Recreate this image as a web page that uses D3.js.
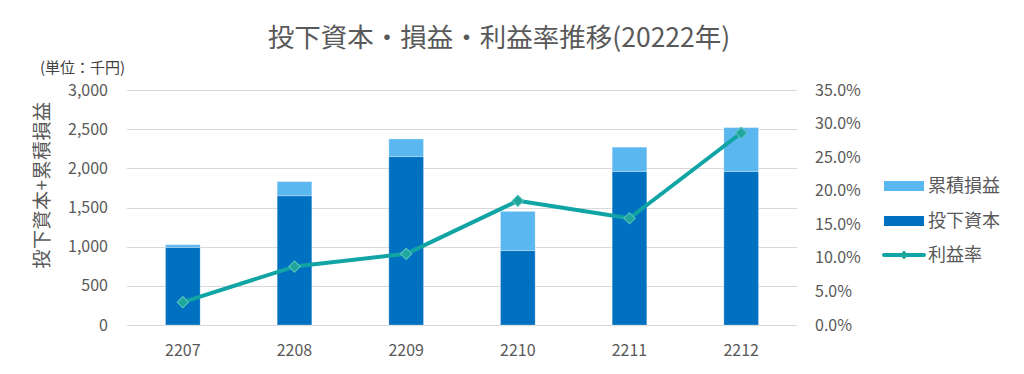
<!DOCTYPE html>
<html>
<head>
<meta charset="utf-8">
<script src="https://cdn.jsdelivr.net/npm/d3@7"></script>
<style>
	body { margin: 0; background: #fff; }
	svg { display: block; font-family: "Noto Sans CJK JP", sans-serif; }
</style>
</head>
<body>
<main></main>
<script>
// months (yymm)
const months = ["2207", "2208", "2209", "2210", "2211", "2212"];
// 投下資本 (千円)
const capital = [990, 1650, 2150, 950, 1960, 1960];
// 累積損益 (千円)
const cumulative = [35, 180, 225, 500, 310, 560];
// 利益率 (%)
const margin_rate = [3.4, 8.7, 10.6, 18.5, 15.9, 28.6];
const leftTicks = [0, 500, 1000, 1500, 2000, 2500, 3000];
const rightTicks = [0, 5, 10, 15, 20, 25, 30, 35];
const seriesNames = ["累積損益", "投下資本", "利益率"];

const w = 1024, h = 374;
const margin = ({top: 90, right: 227, bottom: 49, left: 127});
const colDark = "#0070C0", colLight = "#5BB7EF", colLine = "#11A4A4";
const textCol = "#595959";

let svg = d3.select("main")
	.append("svg")
	.attr("width", w)
	.attr("height", h);

let x = d3.scaleBand()
	.domain(months)
	.range([margin.left, w - margin.right])
	.paddingInner(0.69)
	.paddingOuter(0.345);

let y = d3.scaleLinear()
	.domain([0, 3000])
	.range([h - margin.bottom, margin.top]);

let y2 = d3.scaleLinear()
	.domain([0, 35])
	.range([h - margin.bottom, margin.top]);

// gridlines
svg.append("g")
	.selectAll("line")
	.data(leftTicks)
	.join("line")
		.attr("x1", margin.left)
		.attr("x2", w - margin.right)
		.attr("y1", d => Math.round(y(d)) + 0.5)
		.attr("y2", d => Math.round(y(d)) + 0.5)
		.attr("stroke", "#d9d9d9")
		.attr("stroke-width", 1);

// stacked bars
let rows = months.map((m, i) => ({month: m, capital: capital[i], cumulative: cumulative[i]}));
let stack = d3.stack().keys(["capital", "cumulative"])(rows);
let fills = {capital: colDark, cumulative: colLight};

svg.append("g")
	.selectAll("g")
	.data(stack)
	.join("g")
		.attr("fill", d => fills[d.key])
	.selectAll("rect")
	.data(d => d)
	.join("rect")
		.attr("x", d => x(d.data.month))
		.attr("y", d => y(d[1]))
		.attr("width", x.bandwidth())
		.attr("height", d => y(d[0]) - y(d[1]))
		.attr("stroke", "rgba(255,255,255,0.25)")
		.attr("stroke-width", 1);

let styleTicks = g => g.selectAll("text")
	.attr("font-size", 16)
	.attr("font-family", "\"Noto Sans CJK JP\", sans-serif")
	.attr("fill", textCol);

// left axis
svg.append("g")
	.attr("transform", `translate(${margin.left - 16},0)`)
	.call(d3.axisLeft(y).tickValues(leftTicks).tickSize(0).tickFormat(d3.format(",")))
	.call(g => g.select(".domain").remove())
	.call(styleTicks);

// right axis
svg.append("g")
	.attr("transform", `translate(${w - margin.right + 15},0)`)
	.call(d3.axisRight(y2).tickValues(rightTicks).tickSize(0).tickFormat(d => d.toFixed(1) + "%"))
	.call(g => g.select(".domain").remove())
	.call(styleTicks);

// bottom axis
svg.append("g")
	.attr("transform", `translate(0,${h - margin.bottom + 17})`)
	.call(d3.axisBottom(x).tickSize(0))
	.call(g => g.select(".domain").remove())
	.call(styleTicks);

// profit rate line
let cx = m => x(m) + x.bandwidth() / 2;
let line = d3.line()
	.x((d, i) => cx(months[i]))
	.y(d => y2(d));

svg.append("path")
	.datum(margin_rate)
	.attr("fill", "none")
	.attr("stroke", colLine)
	.attr("stroke-width", 4)
	.attr("stroke-linejoin", "round")
	.attr("d", line);

// diamond markers
svg.append("g")
	.selectAll("path")
	.data(margin_rate)
	.join("path")
		.attr("transform", (d, i) => `translate(${cx(months[i])},${y2(d)}) rotate(45)`)
		.attr("d", d3.symbol().type(d3.symbolSquare).size(64))
		.attr("fill", "#1FA79E")
		.attr("stroke", "#5CC4BC")
		.attr("stroke-width", 1);

// title
svg.append("text")
	.attr("x", 499)
	.attr("y", 47)
	.attr("text-anchor", "middle")
	.attr("font-size", 26.5)
	.attr("fill", textCol)
	.text("投下資本・損益・利益率推移(20222年)");

// unit label
svg.append("text")
	.attr("x", 40)
	.attr("y", 73)
	.attr("font-size", 15)
	.attr("fill", "#404040")
	.text("(単位：千円)");

// left axis title
svg.append("text")
	.attr("transform", "translate(49,185) rotate(-90)")
	.attr("text-anchor", "middle")
	.attr("font-size", 19)
	.attr("letter-spacing", 0.5)
	.attr("fill", textCol)
	.text("投下資本+累積損益");

// legend
let legendY = [186, 221, 255];
let legend = svg.append("g")
	.selectAll("g")
	.data(seriesNames)
	.join("g")
		.attr("transform", (d, i) => `translate(884,${legendY[i]})`);

legend.filter((d, i) => i < 2)
	.append("rect")
		.attr("x", 0)
		.attr("y", -5)
		.attr("width", 40)
		.attr("height", 10)
		.attr("fill", (d, i) => i === 0 ? colLight : colDark);

let lineKey = legend.filter((d, i) => i === 2);
lineKey.append("line")
	.attr("x1", 0).attr("x2", 40)
	.attr("stroke", colLine)
	.attr("stroke-width", 4)
	.attr("stroke-linecap", "round");
lineKey.append("path")
	.attr("transform", "translate(20,0) rotate(45)")
	.attr("d", d3.symbol().type(d3.symbolSquare).size(40))
	.attr("fill", "#1FA79E");

legend.append("text")
	.attr("x", 44)
	.attr("dy", "0.35em")
	.attr("font-size", 18)
	.attr("fill", textCol)
	.text(d => d);
</script>
</body>
</html>
